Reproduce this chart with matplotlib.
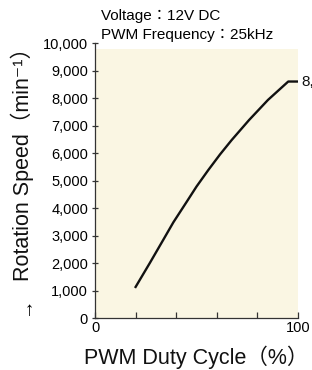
import matplotlib.pyplot as plt

# data
duty = [20, 27, 33.6, 38.6, 45.2, 50, 55.8, 61.6, 67.3, 75.9, 85.2, 95.2, 100]
speed = [1130, 2000, 2840, 3480, 4230, 4780, 5380, 5950, 6470, 7200, 7930, 8600, 8600]
end_label = "8,600"
x_ticks = [0, 20, 40, 60, 80, 100]
x_ticklabels = ['0', '', '', '', '', '100']
y_ticks = list(range(0, 10001, 1000))
y_ticklabels = [f"{v:,}" for v in y_ticks]

cream = '#FAF6E3'
narrow = ['Liberation Sans Narrow', 'Liberation Sans', 'DejaVu Sans']
sans = ['Liberation Sans', 'Noto Sans CJK JP', 'DejaVu Sans']

fig = plt.figure(figsize=(3.12, 3.70), dpi=100)
ax = fig.add_axes([0.3045, 0.1405, 0.6506, 0.7432])
ax.set_facecolor('none')
ax.axhspan(0, 9780, color=cream, zorder=0, lw=0)

ax.plot(duty, speed, color='#111111', lw=1.7, zorder=3)
ax.text(101.5, speed[-1], end_label, fontsize=11, family=narrow,
        va='center', ha='left', clip_on=False, color='#111111')

ax.set_xlim(0, 100)
ax.set_ylim(0, 10000)
ax.set_xticks(x_ticks)
ax.set_xticklabels(x_ticklabels, family=narrow, fontsize=10.5)
ax.set_yticks(y_ticks)
ax.set_yticklabels(y_ticklabels, family=narrow, fontsize=10.5)

for s in ['top', 'right']:
    ax.spines[s].set_visible(False)
for s in ['left', 'bottom']:
    ax.spines[s].set_color('#333333')
    ax.spines[s].set_linewidth(0.9)

ax.tick_params(axis='x', direction='in', length=4, width=0.9, color='#333333', pad=2)
ax.tick_params(axis='y', direction='inout', length=5, width=0.9, color='#333333', pad=2.5)

ax.set_xlabel("PWM Duty Cycle（%）", family=sans, fontsize=15.5, color='#111111')
ax.xaxis.set_label_coords(0.5, -0.1)
ax.set_ylabel("Rotation Speed（min⁻¹）", family=sans, fontsize=15.5, color='#111111')
ax.yaxis.set_label_coords(-0.3, 0.58)
fig.text(0.083, 0.173, "→", rotation=90, fontsize=14, family=sans, ha='center', va='center')

fig.text(0.324, 0.957, "Voltage：12V DC", family=sans, fontsize=11, va='center', ha='left')
fig.text(0.324, 0.906, "PWM Frequency：25kHz", family=sans, fontsize=11, va='center', ha='left')

fig.savefig('out.png', dpi=100)
